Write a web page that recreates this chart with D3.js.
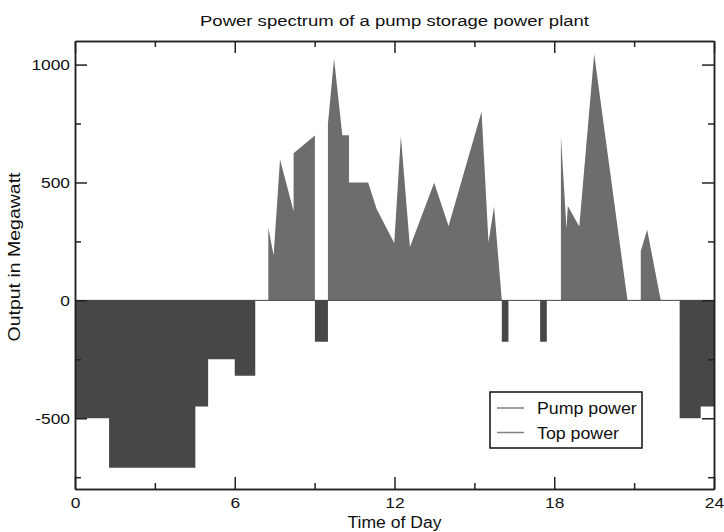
<!DOCTYPE html>
<html>
<head>
<meta charset="utf-8">
<script src="https://d3js.org/d3.v7.min.js"></script>
<style>
  body { margin: 0; background: #fff; }
  text { font-family: "Liberation Sans", Arial, sans-serif; fill: #111; }
  .frame path, .frame line { stroke: #222; stroke-width: 1.5; }
</style>
</head>
<body>
<svg id="chart" width="724" height="532"></svg>
<script>
// pump power: step function, value holds from each hour until the next
var pumpHours  = [0, 1.28, 4.52, 5.0, 6.0, 6.77, 9.01, 9.5, 16.03, 16.28, 17.47, 17.72, 22.71, 23.5, 24];
var pumpValues = [-500, -710, -450, -250, -320, 0, -175, 0, -175, 0, -175, 0, -500, -450, -450];

// top power: piecewise linear (repeated hours = vertical jumps)
var topHours  = [7.26, 7.26, 7.46, 7.70, 8.21, 8.21, 9.01, 9.01,
                 9.5, 9.5, 9.73, 10.04, 10.29, 10.29, 11.01, 11.33, 11.99, 12.24, 12.58, 13.49, 14.03, 15.27, 15.53, 15.74, 16.03,
                 18.25, 18.25, 18.46, 18.51, 18.94, 19.5, 20.75,
                 21.25, 21.25, 21.49, 22.0];
var topValues = [0, 308, 191, 597, 378, 624, 699, 0,
                 0, 749, 1025, 700, 700, 500, 500, 388, 243, 696, 226, 499, 315, 801, 247, 398, 0,
                 0, 696, 304, 400, 313, 1045, 0,
                 0, 209, 299, 0];

var xMajor = [0, 6, 12, 18, 24];
var xMinor = [3, 9, 15, 21];
var yMajor = [-500, 0, 500, 1000];
var yMinor = [-750, -250, 250, 750];
var legendLabels = ["Pump power", "Top power"];

var svg = d3.select("#chart"),
    padL = 75, padR = 714, padT = 41, padB = 489;

var x = d3.scaleLinear().domain([0, 24]).range([padL, padR]);
var y = d3.scaleLinear().domain([-800, 1100]).range([padB, padT]);

function stretch(sel, k) {
  sel.each(function() {
    var w = this.getComputedTextLength();
    d3.select(this).attr("textLength", w * k).attr("lengthAdjust", "spacingAndGlyphs");
  });
}
function plain(d) { return String(d); }

var pumpData = pumpHours.map(function(h, i) { return [h, pumpValues[i]]; });
var topData = topHours.map(function(h, i) { return [h, topValues[i]]; });

var pumpArea = d3.area()
    .x(function(d) { return x(d[0]); })
    .y0(y(0))
    .y1(function(d) { return y(d[1]); })
    .curve(d3.curveStepAfter);

var topArea = d3.area()
    .x(function(d) { return x(d[0]); })
    .y0(y(0))
    .y1(function(d) { return y(d[1]); });

svg.append("path").attr("d", pumpArea(pumpData)).attr("fill", "#474747");
svg.append("path").attr("d", topArea(topData)).attr("fill", "#6d6d6d");

svg.append("line")
    .attr("x1", x(0)).attr("x2", x(24))
    .attr("y1", y(0)).attr("y2", y(0))
    .attr("stroke", "#444").attr("stroke-width", 1);

// axes, ticks pointing inward on all four sides
function addAxis(axis, tr) {
  return svg.append("g").attr("class", "frame").attr("transform", tr).call(axis);
}
var xb = addAxis(d3.axisBottom(x).tickValues(xMajor).tickSize(-12).tickSizeOuter(0).tickPadding(8).tickFormat(plain), "translate(0," + padB + ")");
addAxis(d3.axisBottom(x).tickValues(xMinor).tickSize(-6).tickSizeOuter(0).tickFormat(""), "translate(0," + padB + ")");
addAxis(d3.axisTop(x).tickValues(xMajor).tickSize(-12).tickSizeOuter(0).tickFormat(""), "translate(0," + padT + ")");
addAxis(d3.axisTop(x).tickValues(xMinor).tickSize(-6).tickSizeOuter(0).tickFormat(""), "translate(0," + padT + ")");
var yl = addAxis(d3.axisLeft(y).tickValues(yMajor).tickSize(-12).tickSizeOuter(0).tickPadding(5).tickFormat(plain), "translate(" + padL + ",0)");
addAxis(d3.axisLeft(y).tickValues(yMinor).tickSize(-6).tickSizeOuter(0).tickFormat(""), "translate(" + padL + ",0)");
addAxis(d3.axisRight(y).tickValues(yMajor).tickSize(-12).tickSizeOuter(0).tickFormat(""), "translate(" + padR + ",0)");
addAxis(d3.axisRight(y).tickValues(yMinor).tickSize(-6).tickSizeOuter(0).tickFormat(""), "translate(" + padR + ",0)");

svg.selectAll(".frame text").style("font-family", "Liberation Sans, Arial, sans-serif").style("font-size", "15.5px").attr("fill", "#111");
stretch(xb.selectAll("text"), 1.12);
stretch(yl.selectAll("text"), 1.12);

// titles
svg.append("text")
    .attr("x", (padL + padR) / 2).attr("y", 26)
    .attr("text-anchor", "middle").style("font-size", "15.5px")
    .text("Power spectrum of a pump storage power plant")
    .attr("textLength", 389).attr("lengthAdjust", "spacingAndGlyphs");

svg.append("text")
    .attr("x", (padL + padR) / 2).attr("y", 528)
    .attr("text-anchor", "middle").style("font-size", "16px")
    .text("Time of Day")
    .attr("textLength", 94).attr("lengthAdjust", "spacingAndGlyphs");

svg.append("text")
    .attr("transform", "translate(20,257) rotate(-90)")
    .attr("text-anchor", "middle").style("font-size", "16px")
    .text("Output in Megawatt")
    .attr("textLength", 169).attr("lengthAdjust", "spacingAndGlyphs");

// legend
var lg = svg.append("g").attr("transform", "translate(490,392)");
lg.append("rect").attr("width", 152).attr("height", 56)
    .attr("fill", "#fff").attr("stroke", "#111").attr("stroke-width", 1.5);
var rows = lg.selectAll(".row").data(legendLabels).enter().append("g")
    .attr("transform", function(d, i) { return "translate(0," + (16 + i * 24.5) + ")"; });
rows.append("line").attr("x1", 7).attr("x2", 34)
    .attr("stroke", "#808080").attr("stroke-width", 1.5);
rows.append("text").attr("x", 47).attr("y", 6).style("font-size", "16px")
    .text(function(d) { return d; });
stretch(rows.selectAll("text"), 1.11);
</script>
</body>
</html>
